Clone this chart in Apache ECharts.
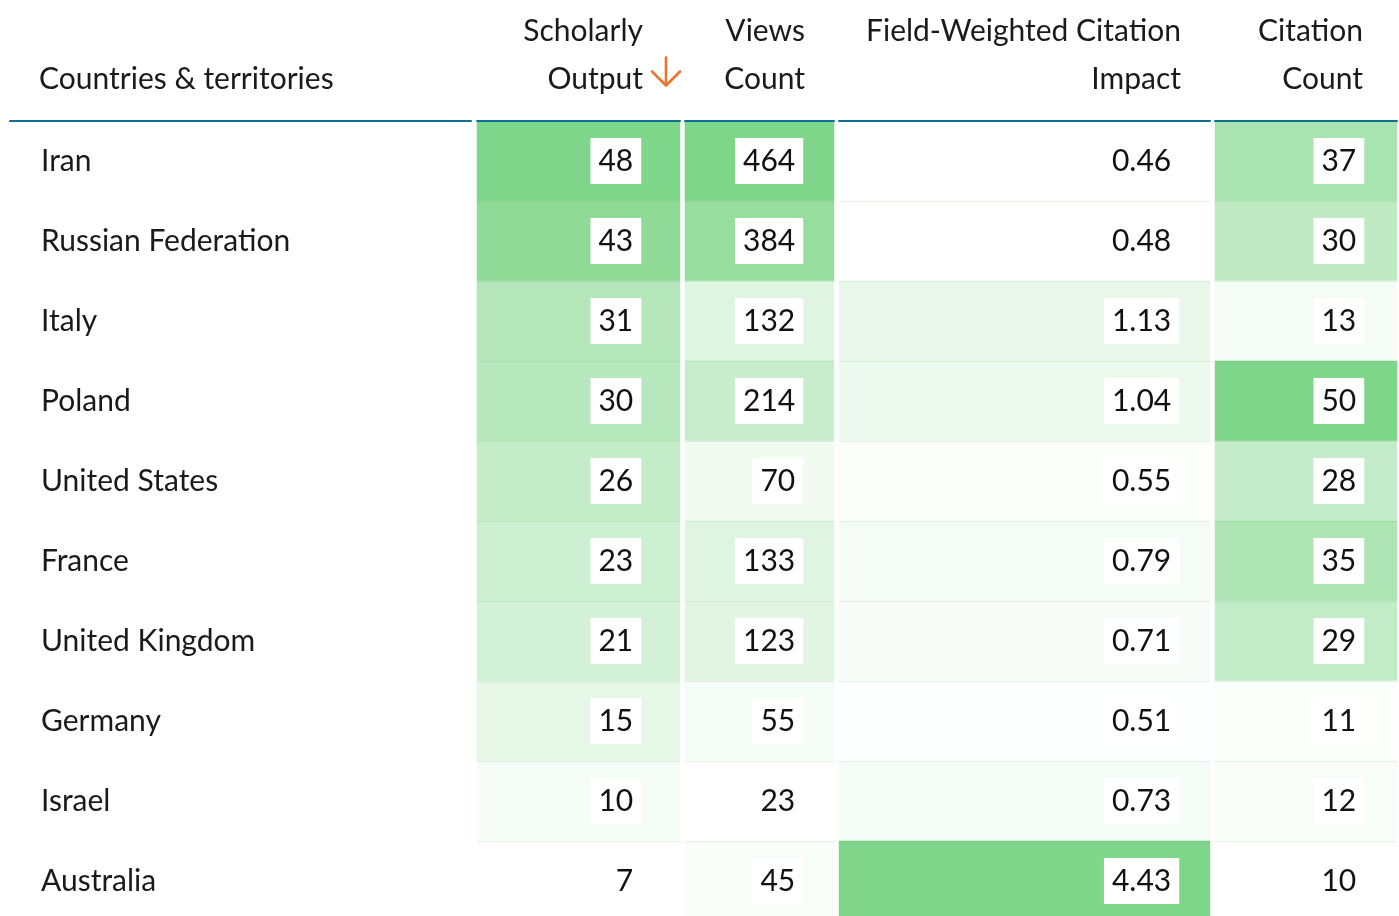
<!DOCTYPE html>
<html>
<head>
<meta charset="utf-8">
<script src="https://cdn.jsdelivr.net/npm/echarts@6/dist/echarts.min.js"></script>
<style>
  html, body { margin: 0; padding: 0; background: #fff; }
  #chart { width: 1399px; height: 916px; }
</style>
</head>
<body>
<div id="chart"></div>
<script>
const countries = ['Iran', 'Russian Federation', 'Italy', 'Poland', 'United States',
  'France', 'United Kingdom', 'Germany', 'Israel', 'Australia']
const scholarlyOutput = [48, 43, 31, 30, 26, 23, 21, 15, 10, 7]
const viewsCount = [464, 384, 132, 214, 70, 133, 123, 55, 23, 45]
const fwci = [0.46, 0.48, 1.13, 1.04, 0.55, 0.79, 0.71, 0.51, 0.73, 4.43]
const citationCount = [37, 30, 13, 50, 28, 35, 29, 11, 12, 10]

const FONT = 'Lato, "Noto Sans", sans-serif'
const FS = 30
const TEAL = '#0c6f93'
const GREEN = '#7fd589'

// sort indicator next to "Output" (thin orange arrow)
const arrowSvg = 'data:image/svg+xml;charset=utf-8,' + encodeURIComponent(
  '<svg xmlns="http://www.w3.org/2000/svg" width="39" height="46" viewBox="0 0 39 46">' +
  '<g fill="none" stroke="#e8772e" stroke-width="2.6" stroke-linecap="round" stroke-linejoin="round">' +
  '<path d="M23 1.5V29"/><path d="M9 15.5L23 29.5L37 15.5"/></g></svg>')

// column layout: left/right edges, label distance from right edge, header offset
const columns = [
  { name: 'Scholarly{sp| }\nOutput{ar| }', data: scholarlyOutput, left: 477, right: 680, dist: 39, gap: 2, digits: 0 },
  { name: 'Views\nCount', data: viewsCount, left: 685, right: 834, dist: 31, gap: -29, digits: 0 },
  { name: 'Field-Weighted Citation\nImpact', data: fwci, left: 839, right: 1210, dist: 31, gap: -29, digits: 2 },
  { name: 'Citation\nCount', data: citationCount, left: 1215, right: 1397, dist: 33, gap: -34, digits: 0 }
]

const chart = echarts.init(document.getElementById('chart'))

const grids = [{ left: 10, width: 461, top: 121, height: 800, outerBoundsMode: 'none' }]
const xAxes = [{
  type: 'category', gridIndex: 0, position: 'top', data: [''], z: 10,
  axisLine: { lineStyle: { color: TEAL, width: 2 } },
  axisTick: { show: false }, axisLabel: { show: false },
  name: 'Countries & territories', nameLocation: 'start', nameGap: -29,
  nameTextStyle: { fontFamily: FONT, fontSize: FS, color: '#1a1a1a', align: 'left',
    verticalAlign: 'bottom', padding: [0, 0, 27, 0] }
}]
const yAxes = [{
  type: 'category', gridIndex: 0, inverse: true, data: countries,
  axisLine: { show: false }, axisTick: { show: false },
  axisLabel: { inside: true, margin: 31, align: 'left', fontFamily: FONT, fontSize: FS, color: '#1a1a1a' }
}]
const series = []
const visualMaps = []

columns.forEach((col, i) => {
  const gi = i + 1
  grids.push({ left: col.left, width: col.right - col.left, top: 121, height: 800, outerBoundsMode: 'none' })
  xAxes.push({
    type: 'category', gridIndex: gi, position: 'top', data: [''], z: 10,
    axisLine: { lineStyle: { color: TEAL, width: 2 } },
    axisTick: { show: false }, axisLabel: { show: false },
    name: col.name, nameLocation: 'end', nameGap: col.gap,
    nameTextStyle: {
      fontFamily: FONT, fontSize: FS, color: '#1a1a1a', align: 'right',
      verticalAlign: 'bottom', lineHeight: 48, padding: [0, 0, 18, 0],
      rich: {
        sp: { width: 39, fontSize: FS, lineHeight: 48 },
        ar: { width: 39, height: 46, lineHeight: 48, backgroundColor: { image: arrowSvg } }
      }
    }
  })
  // hidden y axis, only its split lines show as thin row separators
  yAxes.push({
    type: 'category', gridIndex: gi, inverse: true, data: countries, z: 3,
    axisLine: { show: false }, axisTick: { show: false }, axisLabel: { show: false },
    splitLine: { show: true, lineStyle: { color: 'rgba(90,190,100,0.16)', width: 1 } }
  })
  series.push({
    type: 'heatmap', xAxisIndex: gi, yAxisIndex: gi,
    data: col.data.map((v, r) => [0, r, v]),
    label: {
      show: true, position: 'insideRight', distance: col.dist,
      fontFamily: FONT, fontSize: FS, color: '#111',
      backgroundColor: '#fff', padding: [8, 8, 8, 8],
      formatter: p => p.value[2].toFixed(col.digits)
    },
    emphasis: { disabled: true }
  })
  visualMaps.push({
    type: 'continuous', show: false, seriesIndex: i, dimension: 2,
    min: Math.min(...col.data), max: Math.max(...col.data),
    inRange: { color: ['#ffffff', GREEN] }
  })
})

chart.setOption({
  backgroundColor: '#fff',
  animation: false,
  grid: grids,
  xAxis: xAxes,
  yAxis: yAxes,
  visualMap: visualMaps,
  series: series
})
</script>
</body>
</html>
